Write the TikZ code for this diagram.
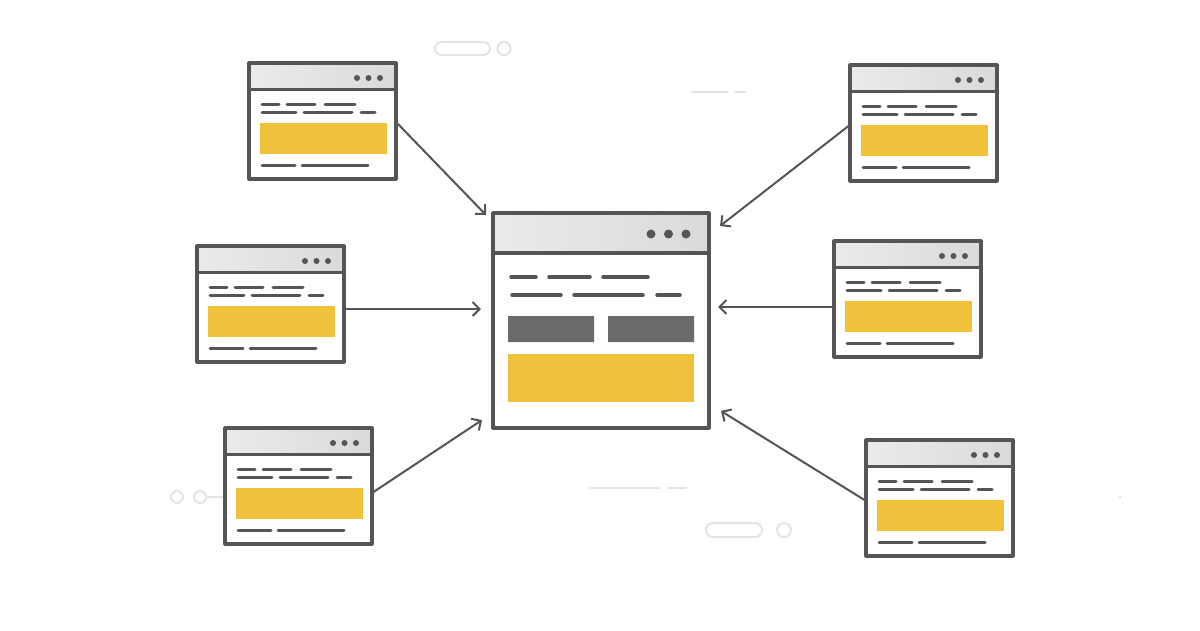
\documentclass[tikz,border=0pt]{standalone}
\usetikzlibrary{arrows.meta}
\definecolor{frame}{HTML}{555555}
\definecolor{bar}{HTML}{DADADA}
\definecolor{mustard}{HTML}{F0C23C}
\definecolor{slab}{HTML}{6B6B6B}
\definecolor{faint}{HTML}{E4E4E4}

\tikzset{
	winbox/.style={draw=frame, line width=3.2pt, minimum width=147pt, minimum height=116pt, inner sep=0pt, outer sep=0pt, anchor=north west},
	txt/.style={frame, line width=3pt},
	link/.style={-{Straight Barb[length=7pt,width=14pt,line width=2pt]}, draw=frame, line width=2pt},
	deco/.style={draw=faint, line width=2pt},
}

% small browser window: name, left, top
\newcommand{\smallwin}[3]{%
	\begin{scope}[shift={(#2,#3)}]
		\shade[left color=bar!55!white, right color=bar] (0,0) rectangle (147,26);
		\draw[frame, line width=3pt] (0,26)--(147,26);
		\fill[frame] (108,15) circle(3) (119.5,15) circle(3) (131,15) circle(3);
		\draw[txt] (13,41)--(30,41) (38,41)--(66,41) (76,41)--(106,41)
		(13,49)--(47,49) (55,49)--(103,49) (112,49)--(126,49)
		(13,102)--(46,102) (53,102)--(119,102);
		\fill[mustard] (11,60) rectangle (138,91);
	\end{scope}
	\node[winbox] (#1) at (#2,#3) {};}

\begin{document}
\begin{tikzpicture}[x=1pt, y=-1pt, line cap = round, line join = round]
		\fill[white] (0,0) rectangle (1200,630);
		\useasboundingbox (0,0) rectangle (1200,630);
		% faint background bits
		\draw[deco, fill=white] (435,42) [rounded corners=6.5pt] rectangle (490,55);
		\draw[deco] (504,48.5) circle(6.5);
		\draw[deco] (692,92)--(728,92) (735,92)--(745,92);
		\draw[deco] (177,497) circle(6) (200,497) circle(6) (206,497)--(225,497);
		\draw[deco] (590,488)--(660,488) (668,488)--(686,488);
		\draw[deco, fill=white] (706,523) [rounded corners=7pt] rectangle (762,537);
		\draw[deco] (784,530) circle(7);
		\fill[faint] (1120,497) circle(1.5);
		% central window
		\begin{scope}[shift={(493,213)}]
			\shade[left color=bar!55!white, right color=bar] (0,0) rectangle (216,40);
			\draw[frame, line width=3.2pt] (0,40)--(216,40);
			\fill[frame] (158,21) circle(4.5) (175.5,21) circle(4.5) (193,21) circle(4.5);
			\draw[frame, line width=3.5pt] (18,64)--(43,64) (56,64)--(97,64) (110,64)--(155,64)
			(19,82)--(68,82) (81,82)--(150,82) (164,82)--(187,82);
			\fill[slab] (15,103) rectangle (101,129) (115,103) rectangle (201,129);
			\fill[mustard] (15,141) rectangle (201,189);
		\end{scope}
		\node[draw=frame, line width=3.2pt, minimum width=216pt, minimum height=215pt, inner sep=0pt, outer sep=0pt, anchor=north west] (main) at (493,213) {};
		% side windows
		\smallwin{w1}{249}{63}
		\smallwin{w2}{197}{246}
		\smallwin{w3}{225}{428}
		\smallwin{w4}{850}{65}
		\smallwin{w5}{834}{241}
		\smallwin{w6}{866}{440}
		% connectors
		\draw[link] ([xshift=2pt,yshift=-3pt]w1.east)--([xshift=-7pt,yshift=-2pt]main.north west);
		\draw[link] ([xshift=1.5pt,yshift=-5pt]w2.east)--([xshift=-12pt,yshift=11.5pt]main.west);
		\draw[link] ([xshift=1.5pt,yshift=-6pt]w3.east)--([xshift=-11pt,yshift=8pt]main.south west);
		\draw[link] ([xshift=-1.5pt,yshift=-3pt]w4.west)--([xshift=11pt,yshift=-13pt]main.north east);
		\draw[link] ([xshift=-1.5pt,yshift=-8pt]w5.west)--([xshift=9pt,yshift=13.5pt]main.east);
		\draw[link] ([xshift=-1.5pt,yshift=-2pt]w6.west)--([xshift=12pt,yshift=17pt]main.south east);
\end{tikzpicture}
\end{document}
